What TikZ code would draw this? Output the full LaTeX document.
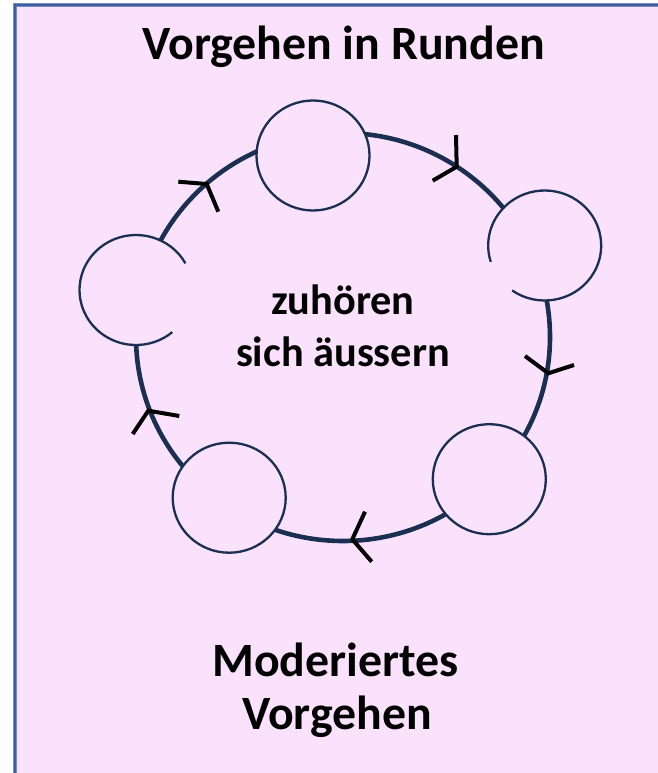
\documentclass[tikz,border=0pt]{standalone}
\usepackage{fontspec}
\setmainfont{Carlito}
\usetikzlibrary{shapes.geometric}
\definecolor{bgpink}{RGB}{251,226,252}
\definecolor{framblue}{RGB}{62,92,160}
\definecolor{navy}{RGB}{26,47,82}
\tikzset{
  bigring/.style={draw=navy, line width=4.6bp},
  member/.style={ellipse, minimum width=113bp, minimum height=110bp, inner sep=0pt, outer sep=0pt, fill=bgpink, draw=navy, line width=2.3bp},
  memberopen/.style={member, draw=none},
  openarc/.style={draw=navy, line width=2.3bp},
  flowmark/.style={draw=black, line width=4bp, line join=miter, line cap=butt},
  bigtext/.style={font=\bfseries\fontsize{48}{56}\selectfont, align=center, inner sep=0pt},
  midtext/.style={font=\bfseries\fontsize{42.5}{52}\selectfont, align=center, inner sep=0pt}
}
\begin{document}
\begin{tikzpicture}[x=1bp,y=1bp]
\useasboundingbox (0,0) rectangle (658,-773);
\clip (0,0) rectangle (658,-773);
\fill[white] (0,0) rectangle (658,-773);
\draw[fill=bgpink, draw=framblue!70!white, line width=4bp] (15,-5.5) rectangle (680,-800);
\draw[draw=framblue, line width=2bp] (15,-5.5) rectangle (680,-800);
% big ring
\draw[bigring] (343,-337) ellipse [x radius=207, y radius=204];
% members
\node[member] (cT) at (313,-155.5) {};
\node[memberopen] (cR) at (544.7,-245.5) {};
\node[member] (cBR) at (489.3,-479.2) {};
\node[member] (cBL) at (229.2,-497.7) {};
\node[memberopen] (cL) at (136,-290) {};
\draw[openarc] ([shift={(29:56.5 and 55)}]cL.center) arc[start angle=29, end angle=310, x radius=56.5, y radius=55];
\draw[openarc] ([shift={(234.8:56.5 and 55)}]cR.center) arc[start angle=234.8, end angle=557.3, x radius=56.5, y radius=55];
% flow marks
\draw[flowmark] (456,-135) -- (456.7,-166.7) -- (432.7,-180.7);
\draw[flowmark] (178.3,-181.7) -- (206.7,-184) -- (218.3,-211.7);
\draw[flowmark] (525,-356) -- (548.3,-373.3) -- (574,-365);
\draw[flowmark] (365,-511.7) -- (352.3,-539.3) -- (371.7,-561.7);
\draw[flowmark] (179.3,-416) -- (148.3,-410.7) -- (132.7,-434);
% texts
\node[bigtext, anchor=base] (title) at (343.5,-60) {Vorgehen in Runden};
\node[midtext, anchor=base] (mid1) at (343,-314) {zuhören};
\node[midtext, anchor=base] (mid2) at (343,-366) {sich äussern};
\node[bigtext, anchor=base] (bot1) at (335.5,-676) {Moderiertes};
\node[bigtext, anchor=base] (bot2) at (337,-729) {Vorgehen};
\end{tikzpicture}
\end{document}
